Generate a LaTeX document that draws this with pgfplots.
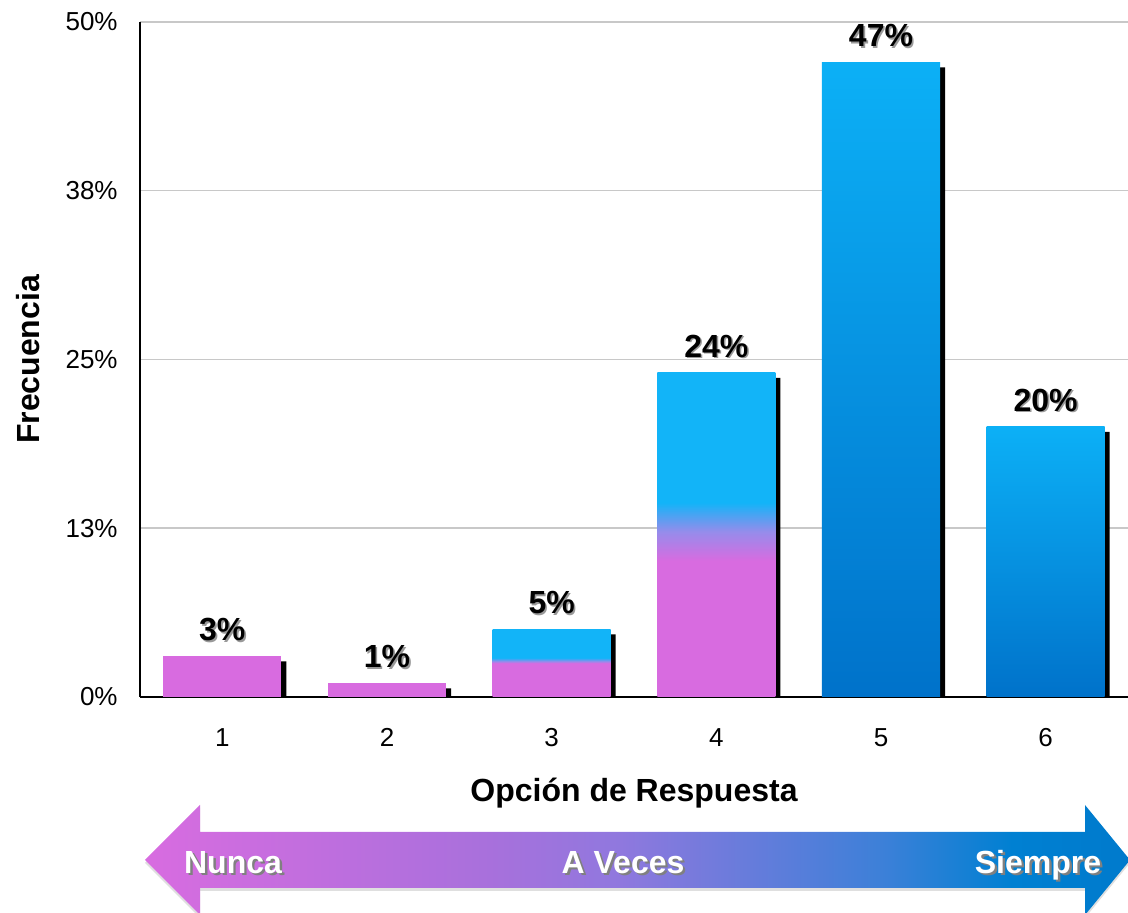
\documentclass[border=0pt]{standalone}
\usepackage{fontspec}
\setmainfont{Liberation Sans}
\usepackage{graphicx}
\usepackage{pgfplots}
\pgfplotsset{compat=1.18}
\usetikzlibrary{shadows}

\definecolor{pinkbar}{RGB}{216,107,224}
\definecolor{skybar}{RGB}{18,180,248}
\definecolor{mixbar}{RGB}{150,140,235}
\definecolor{bluetop}{RGB}{12,176,246}
\definecolor{bluebot}{RGB}{0,114,202}
\definecolor{gridgray}{RGB}{200,200,200}
\definecolor{arrowA}{RGB}{216,108,224}
\definecolor{arrowB}{RGB}{168,112,220}
\definecolor{arrowC}{RGB}{144,120,222}
\definecolor{arrowD}{RGB}{60,128,216}
\definecolor{arrowE}{RGB}{0,128,210}
\definecolor{arrowF}{RGB}{0,122,204}

% pink base fading into blue (bar bottom sits at 25bp, bar top at 75bp)
\pgfdeclareverticalshading{barmixA}{100bp}{color(0bp)=(pinkbar); color(50bp)=(pinkbar); color(51.5bp)=(mixbar); color(54bp)=(skybar); color(100bp)=(skybar)}
\pgfdeclareverticalshading{barmixB}{100bp}{color(0bp)=(pinkbar); color(46bp)=(pinkbar); color(50.5bp)=(mixbar); color(55bp)=(skybar); color(100bp)=(skybar)}
% arrow: pink on the left, violet in the middle, deep blue on the right
\pgfdeclarehorizontalshading{scalearrow}{100bp}{color(0bp)=(arrowA); color(25bp)=(arrowA); color(42.5bp)=(arrowB); color(49bp)=(arrowC); color(62.5bp)=(arrowD); color(69bp)=(arrowE); color(75bp)=(arrowF); color(100bp)=(arrowF)}

% text with a soft offset shadow
\newcommand\embossed[1]{\rlap{\kern0.8pt\raisebox{-0.8pt}{\color{black!40}#1}}#1}
\newcommand\arrowtext[1]{\rlap{\kern1.2pt\raisebox{-1.2pt}{\color{black!50}#1}}{\color{white}#1}}

\begin{document}
\begin{tikzpicture}[x=1pt,y=1pt]
\useasboundingbox (-70,-108) rectangle (494,348.5);
\begin{axis}[
  scale only axis, width=494pt, height=337.5pt,
  xmin=0.5, xmax=6.5, ymin=0, ymax=50,
  axis x line=bottom, axis y line=left,
  axis line style={-, line width=1pt, black},
  ytick={0,12.5,25,37.5,50}, yticklabels={0\%,13\%,25\%,38\%,50\%},
  xtick={1,2,3,4,5,6}, xticklabels={1,2,3,4,5,6},
  major tick length=0pt,
  ymajorgrids, grid style={gridgray, line width=0.75pt},
  tick label style={font=\fontsize{13}{15}\selectfont, inner sep=0pt},
  xticklabel style={anchor=base, yshift=-25pt},
  yticklabel style={anchor=east, xshift=-11pt},
  xlabel={Opción de Respuesta}, ylabel={Frecuencia},
  every axis x label/.style={at={(axis description cs:0.5,-0.1422)}, anchor=center,
    font=\fontsize{16}{19}\selectfont\bfseries},
  every axis y label/.style={at={(axis description cs:-0.1134,0.5)}, anchor=center, rotate=90,
    font=\fontsize{16}{19}\selectfont\bfseries},
  /pgf/number format/assume math mode=true,
  nodes near coords={\embossed{\pgfmathprintnumber{\pgfplotspointmeta}\%}},
  every node near coord/.style={font=\fontsize{16}{19}\selectfont\bfseries, text=black, anchor=south, yshift=3.5pt},
  bar width=59pt,
]
% drop shadows behind the bars
\addplot[ybar, bar shift=2.5pt, yshift=-2.5pt, fill=black, draw=none, nodes near coords={}]
  coordinates {(1,3) (2,1) (3,5) (4,24) (5,47) (6,20)};
% bars
\addplot[ybar, bar shift=0pt, fill=pinkbar, draw=none] coordinates {(1,3)};
\addplot[ybar, bar shift=0pt, fill=pinkbar, draw=none] coordinates {(2,1)};
\addplot[ybar, bar shift=0pt, shading=barmixA, draw=none] coordinates {(3,5)};
\addplot[ybar, bar shift=0pt, shading=barmixB, draw=none] coordinates {(4,24)};
\addplot[ybar, bar shift=0pt, top color=bluetop, bottom color=bluebot, draw=none] coordinates {(5,47)};
\addplot[ybar, bar shift=0pt, top color=bluetop, bottom color=bluebot, draw=none] coordinates {(6,20)};
\end{axis}

% scale arrow under the axis
\path[shading=scalearrow,
      drop shadow={shadow xshift=0pt, shadow yshift=-1.5pt, opacity=0.25}]
  (2.5,-81.5) -- (30,-54) -- (30,-67.5) -- (472.5,-67.5) -- (472.5,-54)
  -- (495,-81.5) -- (472.5,-109) -- (472.5,-95.5) -- (30,-95.5) -- (30,-109) -- cycle;
\begin{scope}[every node/.style={font=\fontsize{16}{19}\selectfont\bfseries, inner sep=0pt, anchor=base}]
\node at (46.5,-88.25) {\arrowtext{Nunca}};
\node at (241.5,-88.25) {\arrowtext{A Veces}};
\node at (449,-88.25) {\arrowtext{Siempre}};
\end{scope}
\end{tikzpicture}
\end{document}
